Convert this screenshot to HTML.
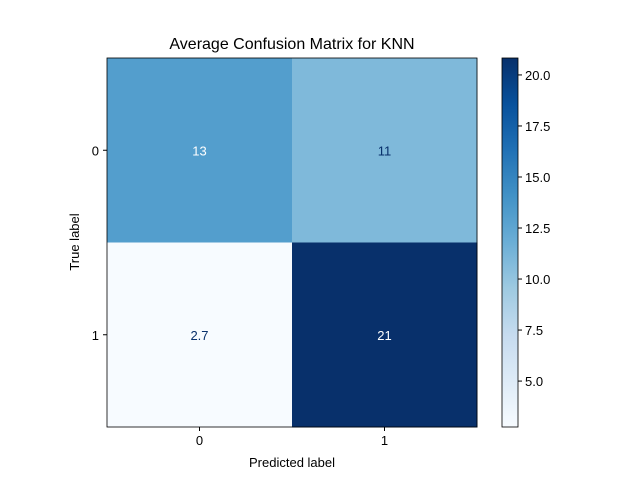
<!DOCTYPE html>
<html><head><meta charset="utf-8"><style>
body{margin:0;background:#fff;}
svg text{font-family:"Liberation Sans","DejaVu Sans",sans-serif;}
</style></head><body>
<svg id="chart" width="640" height="480" xmlns="http://www.w3.org/2000/svg">
<defs>
<linearGradient id="blues" x1="0" y1="1" x2="0" y2="0">
<stop offset="0" stop-color="#f7fbff"/><stop offset="0.125" stop-color="#deebf7"/>
<stop offset="0.25" stop-color="#c6dbef"/><stop offset="0.375" stop-color="#9ecae1"/>
<stop offset="0.5" stop-color="#6baed6"/><stop offset="0.625" stop-color="#4292c6"/>
<stop offset="0.75" stop-color="#2171b5"/><stop offset="0.875" stop-color="#08519c"/>
<stop offset="1" stop-color="#08306b"/>
</linearGradient>
</defs>
<text x="292" y="49" font-size="16" text-anchor="middle">Average Confusion Matrix for KNN</text>
<g id="cells"></g>
<g id="axes"></g>
<rect x="502" y="58" width="16" height="369" fill="url(#blues)" stroke="#000" stroke-width="0.8"/>
<g id="cbticks"></g>
<text x="292" y="467" font-size="13" text-anchor="middle">Predicted label</text>
<text x="79" y="242" font-size="13" text-anchor="middle" transform="rotate(-90 79 242)">True label</text>
</svg>
<script>
const classes = ["0","1"];
const values = [[13.1, 10.9],[2.75, 20.83]];
const labels = [["13","11"],["2.7","21"]];
const cbTicks = [5.0, 7.5, 10.0, 12.5, 15.0, 17.5, 20.0];
const vmin = 2.75, vmax = 20.83;
const NS="http://www.w3.org/2000/svg";
const X0=107, Y0=58, W=370, H=369;
const stops=[[247,251,255],[222,235,247],[198,219,239],[158,202,225],[107,174,214],[66,146,198],[33,113,181],[8,81,156],[8,48,107]];
function cmap(v){let t=Math.max(0,Math.min(1,(v-vmin)/(vmax-vmin)))*8;let i=Math.min(7,Math.floor(t)),f=t-i;
 const c=stops[i].map((a,k)=>Math.round(a+(stops[i+1][k]-a)*f));return `rgb(${c.join(',')})`;}
function mk(tag,attrs,parent){const e=document.createElementNS(NS,tag);for(const k in attrs)e.setAttribute(k,attrs[k]);parent.appendChild(e);return e;}
const n=classes.length,cw=W/n,ch=H/n;
const cells=document.getElementById('cells'),axes=document.getElementById('axes'),cb=document.getElementById('cbticks');
const thr=(vmin+vmax)/2;
for(let r=0;r<n;r++)for(let c=0;c<n;c++){
 const rect=mk('rect',{x:X0+c*cw,y:Y0+r*ch,width:cw+0.5,height:ch+0.5,fill:cmap(values[r][c])},cells);
 
 
 const t=mk('text',{x:X0+(c+0.5)*cw,y:Y0+(r+0.5)*ch+5,'font-size':13,'text-anchor':'middle',fill:values[r][c]>thr?'#fff':'#08306b'},cells);
 t.textContent=labels[r][c];
 
 
}
const frame=mk('rect',{x:X0,y:Y0,width:W,height:H,fill:'none',stroke:'#000','stroke-width':0.8},axes);


for(let i=0;i<n;i++){
 const x=X0+(i+0.5)*cw,y=Y0+(i+0.5)*ch;
 mk('line',{x1:x,x2:x,y1:Y0+H,y2:Y0+H+4,stroke:'#000'},axes);
 const tx=mk('text',{x:x,y:Y0+H+18,'font-size':13,'text-anchor':'middle'},axes);tx.textContent=classes[i];
 
 
 mk('line',{x1:X0-4,x2:X0,y1:y,y2:y,stroke:'#000'},axes);
 const ty=mk('text',{x:X0-8,y:y+5,'font-size':13,'text-anchor':'end'},axes);ty.textContent=classes[i];
 
 
}
cbTicks.forEach(v=>{
 const y=427-(v-vmin)/(vmax-vmin)*369;
 mk('line',{x1:518,x2:522,y1:y,y2:y,stroke:'#000'},cb);
 const t=mk('text',{x:525,y:y+5,'font-size':13},cb);t.textContent=v.toFixed(1);
 
 
});
</script>
</body></html>
